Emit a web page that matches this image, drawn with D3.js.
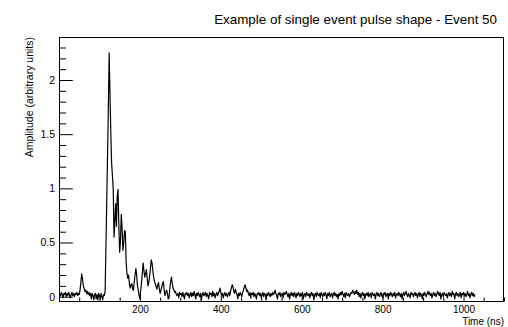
<!DOCTYPE html>
<html>
<head>
<meta charset="utf-8">
<script src="https://cdn.jsdelivr.net/npm/d3@7/dist/d3.min.js"></script>
<style>
  html, body { margin: 0; padding: 0; background: #fff; }
  svg { display: block; }
  text { font-family: "Liberation Sans", Arial, Helvetica, sans-serif; fill: #000; }
</style>
</head>
<body>
<svg id="chart" width="508" height="327"></svg>
<script>
// Digitizer waveform of event 50: one amplitude sample every 2 ns starting at t = 0.
const sampleStart = 0;   // ns
const samplePeriod = 2;  // ns
const amplitude = [
  0.02, 0.03, 0.01, 0.04, 0.02, -0.01, 0.03, 0.02, 0.04, 0.00, 0.03, 0.01, 0.04, 0.02, -0.01, 0.02, 0.04, 0.01, 0.03, 0.00,
  0.03, 0.02, 0.04, 0.01, 0.03, 0.02, 0.06, 0.13, 0.21, 0.17, 0.10, 0.08, 0.05, 0.06, 0.03, 0.05, 0.02, 0.04, 0.01, 0.03,
  -0.02, 0.03, 0.01, -0.03, 0.02, 0.03, -0.02, 0.02, -0.03, 0.03, 0.01, -0.02, 0.03, 0.00, -0.03, 0.02, 0.01, 0.05, 0.46, 0.88,
  1.30, 1.75, 2.25, 1.88, 1.52, 1.24, 1.12, 1.00, 0.55, 0.70, 0.86, 0.65, 0.93, 0.99, 0.64, 0.41, 0.52, 0.76, 0.63, 0.43,
  0.50, 0.61, 0.60, 0.32, 0.21, 0.17, 0.20, 0.12, 0.08, 0.11, 0.12, 0.07, 0.06, 0.14, 0.20, 0.26, 0.20, 0.10, 0.06, 0.01,
  -0.02, 0.06, 0.13, 0.22, 0.31, 0.24, 0.18, 0.21, 0.25, 0.17, 0.10, 0.13, 0.19, 0.26, 0.34, 0.31, 0.24, 0.18, 0.14, 0.12,
  0.09, 0.07, 0.11, 0.13, 0.07, 0.03, 0.06, 0.09, 0.12, 0.14, 0.06, 0.01, 0.04, 0.06, 0.03, -0.02, -0.01, 0.08, 0.14, 0.18,
  0.12, 0.08, 0.06, 0.04, 0.05, 0.02, 0.01, 0.03, -0.01, 0.04, 0.02, 0.03, 0.00, 0.04, 0.01, -0.02, 0.03, 0.02, 0.04, 0.01,
  0.03, -0.01, 0.02, 0.04, 0.00, 0.03, 0.01, 0.05, 0.02, -0.02, 0.03, 0.01, 0.04, 0.02, 0.00, 0.03, -0.03, 0.02, 0.04, 0.01,
  0.02, 0.04, 0.00, 0.03, 0.01, -0.02, 0.04, 0.02, 0.03, 0.00, 0.05, 0.01, 0.03, -0.01, 0.02, 0.04, 0.01, 0.03, 0.05, 0.08,
  0.04, 0.02, 0.03, -0.01, 0.02, 0.04, 0.01, 0.03, 0.00, 0.02, 0.04, 0.01, 0.05, 0.08, 0.11, 0.09, 0.05, 0.03, 0.07, 0.04,
  0.02, -0.02, 0.03, 0.01, 0.04, 0.02, 0.00, 0.04, 0.06, 0.09, 0.11, 0.08, 0.05, 0.06, 0.03, 0.01, 0.04, -0.01, 0.03, 0.02,
  0.04, 0.00, 0.03, 0.01, -0.02, 0.03, 0.02, 0.04, 0.01, 0.03, -0.01, 0.02, 0.04, 0.00, 0.03, 0.02, -0.03, 0.03, 0.01, 0.04,
  0.02, 0.00, 0.03, 0.01, 0.04, 0.02, 0.03, 0.06, 0.03, 0.01, -0.02, 0.03, 0.02, 0.04, 0.00, 0.02, 0.03, -0.01, 0.04, 0.02,
  0.03, 0.05, 0.02, 0.00, 0.03, -0.02, 0.02, 0.04, 0.01, 0.03, 0.00, 0.04, 0.02, -0.01, 0.03, 0.01, 0.04, 0.02, 0.00, 0.03,
  0.01, 0.04, -0.02, 0.02, 0.03, 0.00, 0.04, 0.02, 0.01, 0.03, -0.01, 0.02, 0.04, 0.01, 0.03, -0.03, 0.02, 0.03, 0.00, 0.04,
  0.02, 0.01, 0.03, -0.01, 0.04, 0.02, 0.00, 0.03, 0.01, 0.04, 0.02, -0.02, 0.03, 0.01, 0.04, 0.00, 0.02, 0.03, -0.01, 0.02,
  0.04, 0.01, 0.03, 0.00, 0.02, -0.02, 0.03, 0.01, 0.04, 0.02, 0.05, 0.02, 0.00, 0.03, -0.01, 0.04, 0.02, 0.01, 0.03, 0.00,
  0.02, 0.04, 0.03, 0.06, 0.04, 0.02, 0.05, 0.03, 0.06, 0.02, 0.04, 0.00, 0.03, -0.01, 0.02, 0.04, 0.01, 0.03, -0.02, 0.02,
  0.03, 0.01, 0.04, 0.00, 0.02, 0.03, -0.01, 0.04, 0.02, 0.01, 0.03, -0.02, 0.02, 0.04, 0.01, 0.03, 0.00, 0.02, 0.04, 0.01,
  -0.01, 0.03, 0.02, 0.04, 0.00, 0.02, 0.03, -0.02, 0.03, 0.01, 0.04, 0.02, 0.00, 0.03, 0.01, 0.04, -0.01, 0.02, 0.03, 0.01,
  0.04, 0.02, 0.00, 0.03, -0.02, 0.02, 0.04, 0.01, 0.03, 0.05, 0.02, 0.00, 0.03, 0.01, -0.01, 0.04, 0.02, 0.03, 0.00, 0.02,
  0.04, 0.01, 0.03, -0.01, 0.02, 0.04, 0.00, 0.03, 0.02, -0.02, 0.03, 0.01, 0.04, 0.02, 0.00, 0.03, 0.05, 0.02, 0.04, 0.01,
  0.03, -0.01, 0.02, 0.04, 0.01, 0.03, 0.00, 0.02, 0.05, 0.03, 0.01, 0.04, -0.02, 0.02, 0.03, 0.00, 0.04, 0.02, 0.01, 0.03,
  -0.01, 0.02, 0.04, 0.01, 0.03, 0.00, 0.05, 0.02, 0.03, -0.02, 0.02, 0.04, 0.01, 0.03, 0.00, 0.02, 0.04, -0.01, 0.03, 0.02,
  0.04, 0.01, 0.03, 0.00, 0.02, 0.05, 0.01, 0.03, -0.01, 0.02, 0.04, 0.01, 0.03, 0.00, 0.02
];

// Axis ranges and tick values
const timeRange = [0, 1100];
const ampRange = [-0.0443, 2.397];
const xMajorTicks = [0, 200, 400, 600, 800, 1000];
const xTickLabels = ["", "200", "400", "600", "800", "1000"];
const xMinorStep = 50;
const yMajorTicks = [0, 0.5, 1, 1.5, 2];
const yTickLabels = ["0", "0.5", "1", "1.5", "2"];
const yMinorStep = 0.1;

const titleText = "Example of single event pulse shape - Event 50";
const xTitle = "Time (ns)";
const yTitle = "Amplitude (arbitrary units)";

const points = amplitude.map((v, i) => ({ t: sampleStart + i * samplePeriod, v }));

const svg = d3.select("#chart");
const frame = { left: 59, right: 504, top: 37, bottom: 301.5 };

const x = d3.scaleLinear().domain(timeRange).range([frame.left, frame.right]);
const y = d3.scaleLinear().domain(ampRange).range([frame.bottom, frame.top]);

// Minor tick positions
const xMinor = d3.range(timeRange[0], timeRange[1] + 1e-9, xMinorStep)
  .filter(t => !xMajorTicks.includes(t));
const yMinor = d3.range(0, ampRange[1], yMinorStep)
  .map(v => Math.round(v * 10) / 10)
  .filter(v => !yMajorTicks.some(m => Math.abs(m - v) < 1e-6));

const tickLenY = 13.3, tickLenX = 7.9;
const fontStack = "'Liberation Sans', Arial, Helvetica, sans-serif";

// Waveform, clipped to the frame
svg.append("clipPath").attr("id", "plotClip")
  .append("rect")
  .attr("x", frame.left).attr("y", frame.top)
  .attr("width", frame.right - frame.left).attr("height", frame.bottom - frame.top);

svg.append("path")
  .datum(points)
  .attr("clip-path", "url(#plotClip)")
  .attr("fill", "none")
  .attr("stroke", "#000")
  .attr("stroke-width", 1.2)
  .attr("stroke-linejoin", "round")
  .attr("d", d3.line().x(d => x(d.t)).y(d => y(d.v)));

// Frame
svg.append("rect")
  .attr("x", frame.left + 0.5).attr("y", frame.top + 0.5)
  .attr("width", frame.right - frame.left - 1).attr("height", frame.bottom - frame.top - 0.5)
  .attr("fill", "none").attr("stroke", "#000").attr("stroke-width", 1);

// X axis ticks (pointing into the frame) and labels
const xAxis = d3.axisBottom(x)
  .tickValues(xMajorTicks)
  .tickSizeInner(-tickLenX)
  .tickSizeOuter(0)
  .tickFormat((d, i) => xTickLabels[i]);
const gx = svg.append("g").attr("transform", `translate(0,${frame.bottom})`).call(xAxis);
gx.select(".domain").remove();
gx.selectAll(".tick line").attr("stroke", "#000");
gx.selectAll(".tick text")
  .attr("y", 11).attr("dy", 0)
  .style("font-size", "10px")
  .style("font-family", fontStack);

const xAxisMinor = d3.axisBottom(x).tickValues(xMinor).tickSizeInner(-tickLenX / 2).tickSizeOuter(0).tickFormat("");
const gxm = svg.append("g").attr("transform", `translate(0,${frame.bottom})`).call(xAxisMinor);
gxm.select(".domain").remove();
gxm.selectAll(".tick line").attr("stroke", "#000");

// Y axis ticks and labels
const yAxis = d3.axisLeft(y)
  .tickValues(yMajorTicks)
  .tickSizeInner(-tickLenY)
  .tickSizeOuter(0)
  .tickFormat((d, i) => yTickLabels[i]);
const gy = svg.append("g").attr("transform", `translate(${frame.left + 0.5},0)`).call(yAxis);
gy.select(".domain").remove();
gy.selectAll(".tick line").attr("stroke", "#000");
gy.selectAll(".tick text")
  .attr("x", -4.5)
  .style("font-size", "10.5px")
  .style("font-family", fontStack);

const yAxisMinor = d3.axisLeft(y).tickValues(yMinor).tickSizeInner(-tickLenY / 2).tickSizeOuter(0).tickFormat("");
const gym = svg.append("g").attr("transform", `translate(${frame.left + 0.5},0)`).call(yAxisMinor);
gym.select(".domain").remove();
gym.selectAll(".tick line").attr("stroke", "#000");

// Titles
svg.append("text")
  .attr("x", 497).attr("y", 24)
  .attr("text-anchor", "end")
  .style("font-size", "13.4px")
  .text(titleText);

svg.append("text")
  .attr("x", frame.right).attr("y", 325)
  .attr("text-anchor", "end")
  .style("font-size", "10px")
  .text(xTitle);

svg.append("text")
  .attr("transform", `translate(33,${frame.top}) rotate(-90)`)
  .attr("text-anchor", "end")
  .style("font-size", "10.5px")
  .text(yTitle);
</script>
</body>
</html>
